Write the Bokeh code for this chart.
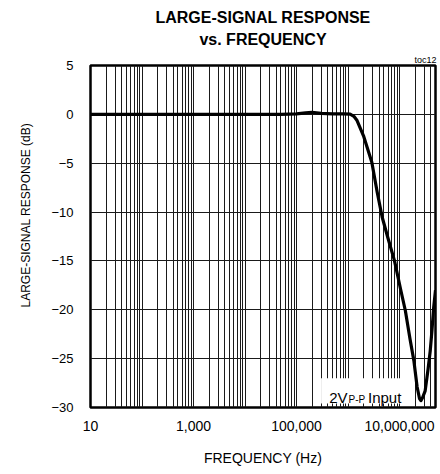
from bokeh.plotting import figure
from bokeh.models import FixedTicker, Label, BoxAnnotation, NumeralTickFormatter, Title
from bokeh.embed import file_html
from bokeh.resources import INLINE

# ---- data ----
freq_hz = [10, 100, 1000, 10000, 50000, 100000, 150000, 200000, 300000, 500000,
           800000, 1.1e6, 1.3e6, 1.5e6, 2.0e6, 2.9e6, 3.7e6, 4.6e6, 6.0e6, 8.0e6,
           1.05e7, 1.3e7, 1.6e7, 1.9e7, 2.2e7, 2.45e7, 2.6e7, 2.8e7, 3.15e7, 3.6e7,
           3.95e7, 4.27e7, 4.6e7, 5e7]
response_db = [0, 0, 0, 0, 0, 0.05, 0.15, 0.2, 0.1, 0.05,
               0.05, 0.02, -0.2, -0.63, -2.2, -4.9, -8.0, -10.5, -12.7, -15.0,
               -17.9, -20.1, -23.0, -25.2, -27.9, -29.1, -29.3, -29.0, -28.3, -26.0,
               -24.2, -22.1, -19.8, -18.0]

x_tick_values = [10, 1000, 100000, 10000000]
y_tick_values = [-30, -25, -20, -15, -10, -5, 0, 5]
x_range = (10, 5e7)
y_range = (-30, 5)

title_line1 = "LARGE-SIGNAL RESPONSE"
title_line2 = "vs. FREQUENCY"
x_label = "FREQUENCY (Hz)"
y_label = "LARGE-SIGNAL RESPONSE (dB)"
corner_tag = "toc12"

FONT = "Liberation Sans"

p = figure(width=440, height=474, x_axis_type="log", x_range=x_range, y_range=y_range,
           output_backend="svg", toolbar_location=None, title=None,
           min_border_left=89, min_border_right=5, min_border_top=65, min_border_bottom=67)
p.background_fill_color = "white"
p.border_fill_color = "white"
p.outline_line_color = "black"
p.outline_line_width = 2.5

# grid
decades = [10 ** d for d in range(1, 8)]
minors = [m * 10 ** d for d in range(1, 8) for m in range(2, 10)]
p.xgrid.ticker = FixedTicker(ticks=decades, minor_ticks=minors)
p.xgrid.grid_line_color = "#1a1a1a"
p.xgrid.grid_line_width = 1
p.xgrid.minor_grid_line_color = "#1a1a1a"
p.xgrid.minor_grid_line_width = 1
p.ygrid.ticker = FixedTicker(ticks=y_tick_values)
p.ygrid.grid_line_color = "#1a1a1a"
p.ygrid.grid_line_width = 1.2

# axes
p.xaxis.ticker = FixedTicker(ticks=x_tick_values)
p.xaxis.formatter = NumeralTickFormatter(format="0,0")
p.yaxis.ticker = FixedTicker(ticks=y_tick_values)
for ax in (p.xaxis[0], p.yaxis[0]):
    ax.axis_line_color = None
    ax.major_tick_line_color = None
    ax.minor_tick_line_color = None
    ax.major_tick_out = 0
    ax.major_tick_in = 0
    ax.minor_tick_out = 0
    ax.minor_tick_in = 0
    ax.major_label_text_font = FONT
    ax.major_label_text_color = "black"
p.xaxis.major_label_text_font_size = "14px"
p.yaxis.major_label_text_font_size = "13px"
p.xaxis.major_label_standoff = 13
p.yaxis.major_label_standoff = 17
p.xaxis.axis_label = x_label
p.xaxis.axis_label_text_font = FONT
p.xaxis.axis_label_text_font_size = "14px"
p.xaxis.axis_label_text_font_style = "normal"
p.xaxis.axis_label_text_color = "black"
p.xaxis.axis_label_standoff = 16

# curve
p.line(freq_hz, response_db, line_color="black", line_width=3.2, line_join="round")

# annotation box
p.add_layout(BoxAnnotation(left=3e5, right=1.05e7, top=-27.0, bottom=-29.6,
                           fill_color="white", fill_alpha=1, line_color=None))
p.add_layout(Label(x=1e6, y=-29, text="2V", text_align="right", text_baseline="alphabetic",
                   x_offset=-0.5, text_font=FONT, text_font_size="15px", text_color="black"))
p.add_layout(Label(x=1e6, y=-29, text="P-P", text_align="left", text_baseline="alphabetic",
                   x_offset=0.5, y_offset=-1.5, text_font=FONT, text_font_size="10px",
                   text_color="black"))
p.add_layout(Label(x=1e6, y=-29, text="Input", text_align="left", text_baseline="alphabetic",
                   x_offset=20, text_font=FONT, text_font_size="15px", text_color="black"))

# titles (stacked outward from the frame)
p.add_layout(Title(text=corner_tag, align="right", offset=-1, standoff=2,
                   text_font=FONT, text_font_size="9px", text_font_style="normal",
                   text_color="black"), "above")
p.add_layout(Title(text=title_line2, align="center", standoff=7,
                   text_font=FONT, text_font_size="16px", text_font_style="bold",
                   text_color="black"), "above")
p.add_layout(Title(text=title_line1, align="center", standoff=0,
                   text_font=FONT, text_font_size="16px", text_font_style="bold",
                   text_color="black"), "above")
# y-axis title (placed on the left, starting 100px above the frame bottom)
p.add_layout(Title(text=y_label, align="left", offset=100, standoff=32,
                   text_font=FONT, text_font_size="12px", text_font_style="normal",
                   text_color="black"), "left")

open("out.html", "w").write(file_html(p, INLINE))
